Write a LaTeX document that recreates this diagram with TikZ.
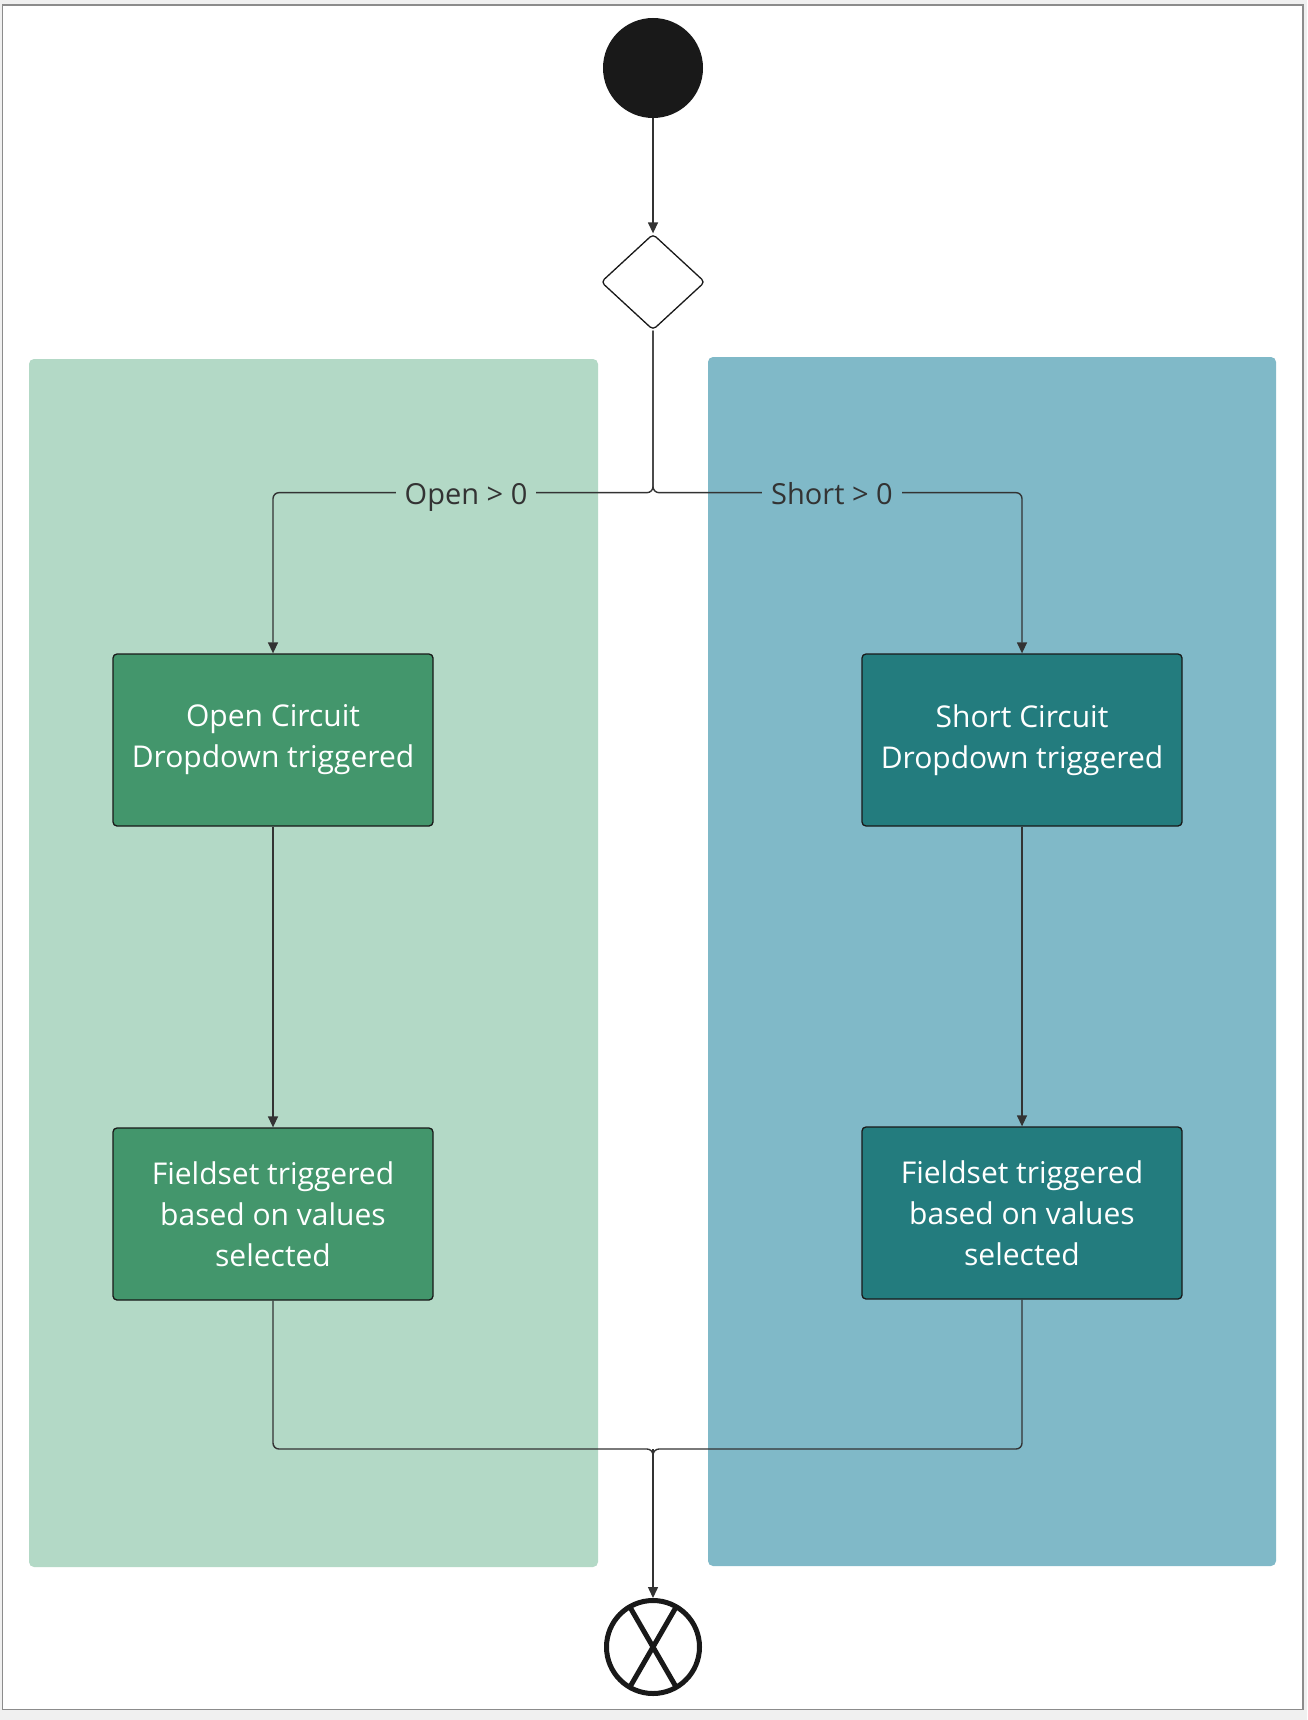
\documentclass[tikz,border=0pt]{standalone}
\usepackage{fontspec}
\setmainfont{Open Sans}
\usetikzlibrary{shapes.geometric,arrows.meta}
\definecolor{lanegreen}{HTML}{B3D9C6}
\definecolor{laneblue}{HTML}{80B9C8}
\definecolor{boxgreen}{HTML}{43966C}
\definecolor{boxteal}{HTML}{237C7E}
\definecolor{linegray}{HTML}{333333}
\definecolor{pagegray}{HTML}{F0F0F0}
\tikzset{
  lanebox/.style={rounded corners=5pt},
  actbox/.style={draw=black!90, line width=1.3pt, rounded corners=4pt, minimum width=320pt, minimum height=172pt, inner sep=0pt, text=white, align=center, font=\fontsize{30}{41}\selectfont},
  conn/.style={draw=linegray, line width=1.4pt, rounded corners=6pt},
  arr/.style={conn, -{Triangle[length=11pt,width=10pt]}},
  lbl/.style={text=linegray, font=\fontsize{29}{32}\selectfont, inner xsep=9pt, inner ysep=0pt, text height=21pt, text depth=7pt}
}
\begin{document}
\begin{tikzpicture}[x=1pt,y=-1pt]
\useasboundingbox (0,0) rectangle (1307,1720);
\fill[pagegray] (0,0) rectangle (1307,1720);
\draw[fill=white, draw=black!45, line width=1.5pt] (2.5,5) rectangle (1303,1709.5);
% lanes
\fill[lanegreen, lanebox] (29,359) rectangle (598,1567);
\fill[laneblue, lanebox] (708,357) rectangle (1276,1566);
% nodes
\node[circle, fill=black!90, minimum size=100pt, inner sep=0pt] (start) at (653,68) {};
\node[diamond, draw=black!90, fill=white, line width=1.3pt, rounded corners=4pt, minimum width=104pt, minimum height=96pt, inner sep=0pt] (dec) at (653,282) {};
\node[actbox, fill=boxgreen] (open) at (273,740) {Open Circuit\\Dropdown triggered};
\node[actbox, fill=boxteal] (short) at (1022,740) {Short Circuit\\Dropdown triggered};
\node[actbox, fill=boxgreen] (fsl) at (273,1214) {Fieldset triggered\\based on values\\selected};
\node[actbox, fill=boxteal] (fsr) at (1022,1213) {Fieldset triggered\\based on values\\selected};
\node[circle, draw=black!90, line width=5pt, minimum size=93pt, inner sep=0pt] (end) at (653,1647) {};
\draw[black!90, line width=5pt] (end.center) ++(60:46.5) -- ++(240:93);
\draw[black!90, line width=5pt] (end.center) ++(120:46.5) -- ++(300:93);
% connectors
\draw[arr] (start) -- (dec);
\draw[arr] (dec.south) -- ++(0,162) -| (open.north);
\draw[arr] (dec.south) -- ++(0,162) -| (short.north);
\draw[arr] (open) -- (fsl);
\draw[arr] (short) -- (fsr);
\coordinate (merge) at (653,1449);
\draw[conn] (fsl.south) |- (merge) -- ++(0,6);
\draw[conn] (fsr.south) |- (merge) -- ++(0,6);
\draw[arr] (merge) -- (end);
% labels
\node[lbl, fill=lanegreen] (lopen) at (466,497) {Open > 0};
\node[lbl, fill=laneblue] (lshort) at (832,497) {Short > 0};
\end{tikzpicture}
\end{document}
